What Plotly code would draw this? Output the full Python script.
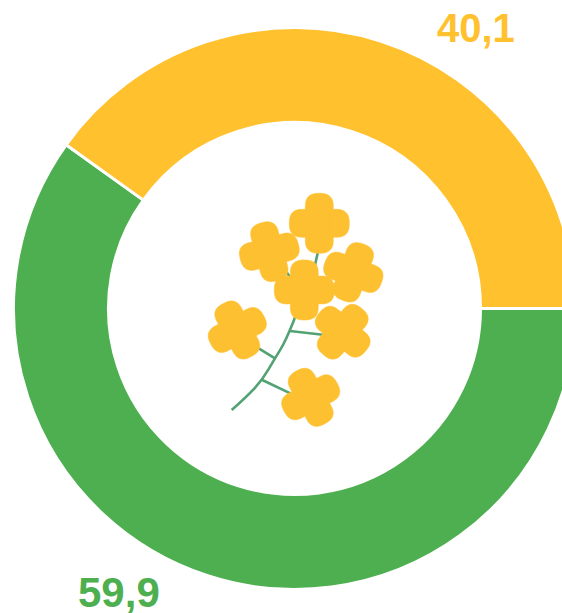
import numpy as np
import plotly.graph_objects as go

# Data
categories = ["Green", "Yellow"]
values = [59.9, 40.1]
value_labels = ["59,9", "40,1"]
colors = ["#4DAF50", "#FFC12E"]

W, H = 600, 613          # canvas; the window crops it at 562 px
CX, CY, R = 294.5, 308.5, 281

STEM = "#52A273"
FLOWER = "#FDC031"

# flower decoration: (centre x, centre y, rotation in degrees)
flowers = [
    (319.3, 223.3, 0), (269.3, 251.7, -15), (353.3, 272.3, 20),
    (342.7, 331.7, 40), (237.3, 330.0, -28), (310.7, 397.3, -28),
    (304.3, 290.0, 0),
]
stems = [
    [(231.7, 410), (246.7, 396.7), (262.3, 380), (275, 358.3), (283.3, 345),
     (290, 330), (296.7, 313.3), (304, 290)],
    [(262.3, 380), (293, 394.7)],
    [(275, 358.3), (258.7, 348.3)],
    [(290, 331), (325, 335)],
    [(315, 265), (317.7, 253)],
    [(285, 270), (290, 277)],
    [(334, 285), (339, 282)],
]


def px(x, y):
    return f"{x / W:.5f},{1 - y / H:.5f}"


def flower_paths(cx, cy, rot, d=16.5, a=13.5, b=14.0, n=2.6):
    # four rounded-square lobes plus a filled middle, each its own closed path
    paths = []
    t = np.radians(np.arange(0, 360, 6))
    u = a * np.sign(np.cos(t)) * np.abs(np.cos(t)) ** (2 / n)
    v = b * np.sign(np.sin(t)) * np.abs(np.sin(t)) ** (2 / n)
    for k in range(4):
        ang = np.radians(rot + 90 * k)
        xs = cx + (d + u) * np.sin(ang) + v * np.cos(ang)
        ys = cy - (d + u) * np.cos(ang) + v * np.sin(ang)
        paths.append("M" + "L".join(px(x, y) for x, y in zip(xs, ys)) + "Z")
    ang = np.radians(rot + 45 + np.arange(4) * 90)
    xs = cx + 15 * np.sin(ang)
    ys = cy - 15 * np.cos(ang)
    paths.append("M" + "L".join(px(x, y) for x, y in zip(xs, ys)) + "Z")
    return paths


def stem_path(pts):
    if len(pts) == 2:
        return "M" + "L".join(px(x, y) for x, y in pts)
    path = "M" + px(*pts[0])
    for p, q in zip(pts[1:-1], pts[2:]):
        mid = ((p[0] + q[0]) / 2, (p[1] + q[1]) / 2)
        path += "Q" + px(*p) + " " + px(*mid)
    return path + "L" + px(*pts[-1])


shapes = [dict(type="path", xref="paper", yref="paper", path=stem_path(s),
               line=dict(color=STEM, width=2.6), layer="above") for s in stems]
shapes += [dict(type="path", xref="paper", yref="paper", path=p,
                fillcolor=FLOWER, line=dict(color=FLOWER, width=0.5), layer="above")
           for f in flowers for p in flower_paths(*f)]

fig = go.Figure(go.Pie(
    labels=categories, values=values, sort=False, direction="counterclockwise",
    rotation=90, hole=0.662, textinfo="none", hoverinfo="label+value",
    marker=dict(colors=colors, line=dict(color="white", width=3)),
    domain=dict(x=[(CX - R) / W, (CX + R) / W],
                y=[1 - (CY + R) / H, 1 - (CY - R) / H]),
    showlegend=False,
))

annotations = [
    dict(text=value_labels[1], x=476 / W, y=1 - 28 / H,
         font=dict(color=colors[1], size=40)),
    dict(text=value_labels[0], x=119 / W, y=1 - 592 / H,
         font=dict(color=colors[0], size=42)),
]
for a in annotations:
    a.update(xref="paper", yref="paper", showarrow=False, xanchor="center", yanchor="middle")
    a["font"].update(family="Liberation Sans", weight="bold")

fig.update_layout(width=W, height=H, margin=dict(l=0, r=0, t=0, b=0),
                  paper_bgcolor="white", shapes=shapes, annotations=annotations)
fig.write_html("out.html", config=dict(displayModeBar=False), post_script=
               "document.documentElement.style.overflow='hidden';document.body.style.overflow='hidden';document.body.style.margin='0';")
